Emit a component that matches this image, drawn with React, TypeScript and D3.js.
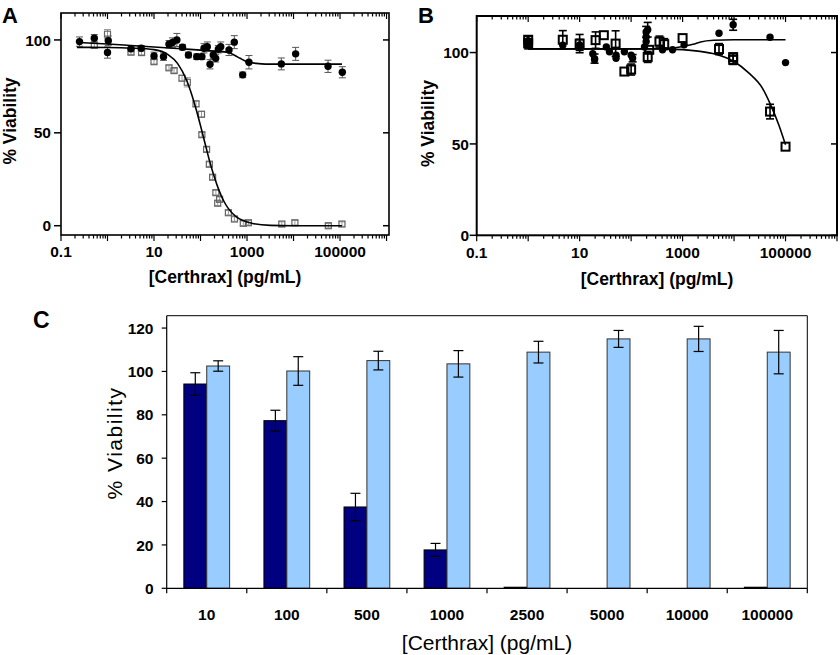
import React from "react";
import * as d3 from "d3";

const FONT = "'Liberation Sans', Arial, Helvetica, sans-serif";

// ---------------- Panel A data ----------------
const aCircleConc = [0.25, 0.52, 1.04, 1.0, 3.2, 5.3, 10, 16, 21, 25, 31, 41, 55, 83, 107, 119, 140, 160, 188, 212, 242, 272, 410, 533, 807, 1100, 5470, 11100, 55200, 112000];
const aCircleVal = [99.1, 100.9, 99.6, 93.2, 95.2, 95.5, 91.4, 91.0, 97.7, 98.6, 100.0, 96.1, 91.9, 91.0, 91.0, 95.5, 96.4, 86.9, 91.9, 90.1, 95.0, 96.4, 94.6, 98.8, 81.2, 88.0, 87.1, 92.5, 85.8, 82.6];
const aCircleErr = [2.5, 2, 2.5, 3, 1.5, 1.5, 2, 2, 2, 2.5, 3.5, 1.5, 1.5, 1.5, 1.5, 2.5, 2.5, 2.5, 2, 2, 2, 2.5, 3, 3.5, 1.5, 3.6, 3.2, 3.5, 3.3, 3];

const aSquareConc = [0.52, 1.0, 3.2, 5.4, 10, 21, 27, 40, 52, 80, 105, 107, 135, 155, 182, 214, 257, 234, 398, 537, 832, 1070, 5600, 10700, 56000, 110000];
const aSquareVal = [97.1, 103.1, 93.4, 93.2, 88.3, 85.0, 83.5, 79.4, 77.2, 65.6, 60.0, 49.0, 41.1, 33.1, 26.1, 17.8, 14.2, 12.1, 7.0, 3.6, 1.3, 1.6, 0.9, 1.6, 0, 0.9];
const aSquareErr = [1.5, 2.5, 1.2, 1.2, 1.2, 1.2, 1.2, 1.5, 2.5, 1.5, 1.5, 1.2, 1.2, 1.2, 1.2, 1.2, 1.2, 1.2, 1.2, 1.2, 1.2, 1.2, 1.2, 1.2, 1.2, 1.2];

// fitted curves
const aCircleFitConc = [0.24, 1, 3.16, 10, 31.6, 100, 200, 400, 560, 710, 1000, 1580, 2500, 110000];
const aCircleFitVal = [98.6, 97.8, 97.0, 96.2, 95.4, 94.5, 94.0, 93.2, 91.5, 90.1, 88.3, 87.4, 87.0, 87.0];
const aSquareFitConc = [0.22, 1, 3.2, 10, 20, 32, 50, 79, 100, 126, 158, 200, 251, 316, 398, 562, 794, 1259, 3162, 10000, 110000];
const aSquareFitVal = [96, 95.9, 95.6, 94.8, 92.1, 87.4, 78.4, 63.4, 53.9, 44.0, 34.5, 25.9, 18.9, 13.3, 9.2, 5.2, 2.9, 1.3, 0.2, 0, 0];

const aYTicks = [0, 50, 100];
const aXLabels = [0.1, 10, 1000, 100000];

// ---------------- Panel B data ----------------
const bCircleConc = [1, 1, 4.7, 10, 18, 19.5, 19.5, 33, 38, 51, 51, 74, 100, 107, 182, 196, 196, 210, 196, 407, 638, 1070, 5100, 9600, 50000, 100000];
const bCircleVal = [104, 106.5, 104, 104.2, 99.4, 96.7, 96.0, 103.1, 100.4, 98.6, 96.9, 100.4, 98.6, 96.9, 103.1, 108.6, 111.3, 112.5, 106, 101.5, 101.5, 104.2, 110.6, 115.2, 108.4, 94.5];
const bCircleErr = [2, 0, 0, 3, 0, 2.5, 0, 0, 0, 0, 0, 0, 0, 2, 0, 0, 3, 4, 0, 0, 0, 0, 0, 3, 0, 0];

const bSquareConc = [1, 1, 4.7, 10, 20.4, 29.5, 50, 74, 100, 210, 225, 355, 440, 1000, 5100, 9600, 9600, 50000, 100000];
const bSquareVal = [107, 105, 107, 104.9, 106.8, 109.5, 104.9, 89.6, 90.7, 97.6, 101.5, 106, 104.6, 107.9, 101.9, 96.0, 97.5, 67.7, 48.5];
const bSquareErr = [2, 0, 5, 5, 4.5, 0, 7, 0, 3, 3, 0, 3, 3, 0, 3, 2.5, 2, 4, 0];

const bCircleFitConc = [1, 100, 500, 1000, 1600, 2240, 4000, 10000, 100000];
const bCircleFitVal = [102, 102, 102.2, 103.3, 104.5, 105.8, 106.7, 107, 107];
const bSquareFitConc = [1, 10, 100, 500, 1000, 2000, 4400, 10000, 19500, 35500, 51300, 74100, 100000];
const bSquareFitVal = [102, 102, 102, 101.9, 101.6, 100.8, 99.1, 95.1, 88.7, 80.5, 71.4, 60.4, 49.5];

const bYTicks = [0, 50, 100];
const bXLabels = [0.1, 10, 1000, 100000];

// ---------------- Panel C data ----------------
const cCategories = ["10", "100", "500", "1000", "2500", "5000", "10000", "100000"];
const cDark = [94.2, 77.3, 37.5, 17.7, 0.5, 0, 0, 0.5];
const cDarkErr = [5.2, 4.8, 6.3, 3.0, 0, 0, 0, 0];
const cLight = [102.5, 100.2, 105, 103.5, 108.9, 115, 115, 108.9];
const cLightErr = [2.4, 6.6, 4.3, 6.1, 5, 3.9, 5.8, 10];
const cYTicks = [0, 20, 40, 60, 80, 100, 120];

type Pt = { c: number; v: number; e: number };
const zip = (c: number[], v: number[], e: number[]): Pt[] => c.map((x, i) => ({ c: x, v: v[i], e: e[i] }));

type PanelProps = {
  box: { left: number; right: number; top: number; bottom: number };
  xDomain: [number, number];
  yDomain: [number, number];
  yTicks: number[];
  xLabels: number[];
  circles: Pt[];
  squares: Pt[];
  circleFit: [number[], number[]];
  squareFit: [number[], number[]];
  frameW: number;
  sqSize: number;
  sqStroke: string;
  sqStrokeW: number;
  sqErrColor: string;
  circErrColor: string;
  errW: number;
  capHalf: number;
  xLabelY: number;
  xTitle: { x: number; y: number };
  yTitle: { x: number; y: number };
  yLabelX: number;
};

function LogPanel(p: PanelProps) {
  const { box } = p;
  const x = d3.scaleLog().domain(p.xDomain).range([box.left, box.right]);
  const y = d3.scaleLinear().domain(p.yDomain).range([box.bottom, box.top]);
  const allTicks = x.ticks().filter((t) => t >= p.xDomain[0] && t <= p.xDomain[1] * 1.0001);
  const isMajor = (t: number) => Math.abs(Math.log10(t) - Math.round(Math.log10(t))) < 1e-6;
  const line = d3
    .line<[number, number]>()
    .x((d) => x(d[0]))
    .y((d) => y(d[1]))
    .curve(d3.curveMonotoneX);
  const fitPath = (f: [number[], number[]]) => line(f[0].map((c, i) => [c, f[1][i]] as [number, number])) || "";
  const errBar = (d: Pt, color: string, key: string) =>
    d.e > 0 ? (
      <g key={key} stroke={color} strokeWidth={p.errW}>
        <line x1={x(d.c)} x2={x(d.c)} y1={y(d.v - d.e)} y2={y(d.v + d.e)} />
        <line x1={x(d.c) - p.capHalf} x2={x(d.c) + p.capHalf} y1={y(d.v + d.e)} y2={y(d.v + d.e)} />
        <line x1={x(d.c) - p.capHalf} x2={x(d.c) + p.capHalf} y1={y(d.v - d.e)} y2={y(d.v - d.e)} />
      </g>
    ) : null;
  const fmt = (v: number) => (v < 1 ? String(v) : d3.format("d")(v));
  return (
    <g fontFamily={FONT}>
      {/* frame */}
      <rect x={box.left} y={box.top} width={box.right - box.left} height={box.bottom - box.top} fill="none" stroke="#000" strokeWidth={p.frameW} />
      {/* x ticks bottom (outward) and top (inward) */}
      {allTicks.map((t, i) => {
        const len = isMajor(t) ? 6 : 3.5;
        return (
          <g key={"xt" + i} stroke="#000" strokeWidth={1.2}>
            <line x1={x(t)} x2={x(t)} y1={box.bottom} y2={box.bottom + len} />
            <line x1={x(t)} x2={x(t)} y1={box.top} y2={box.top + len} />
          </g>
        );
      })}
      {/* y ticks left (outward) and right (inward) */}
      {p.yTicks.map((t, i) => (
        <g key={"yt" + i} stroke="#000" strokeWidth={1.5}>
          <line x1={box.left - 7} x2={box.left} y1={y(t)} y2={y(t)} />
          <line x1={box.right - 6} x2={box.right} y1={y(t)} y2={y(t)} />
        </g>
      ))}
      {p.yTicks.map((t, i) => (
        <text key={"yl" + i} x={p.yLabelX} y={y(t)} dy="0.36em" textAnchor="end" fontSize={15.5} fontWeight="bold">
          {t}
        </text>
      ))}
      {p.xLabels.map((t, i) => (
        <text key={"xl" + i} x={x(t)} y={p.xLabelY} textAnchor="middle" fontSize={15.5} fontWeight="bold">
          {fmt(t)}
        </text>
      ))}
      <text x={p.xTitle.x} y={p.xTitle.y} textAnchor="middle" fontSize={17.5} fontWeight="bold">
        [Certhrax] (pg/mL)
      </text>
      <text transform={`translate(${p.yTitle.x},${p.yTitle.y}) rotate(-90)`} textAnchor="middle" fontSize={17.5} fontWeight="bold">
        % Viability
      </text>
      {/* error bars */}
      {p.squares.map((d, i) => errBar(d, p.sqErrColor, "se" + i))}
      {p.circles.map((d, i) => errBar(d, p.circErrColor, "ce" + i))}
      {/* markers */}
      {p.squares.map((d, i) => (
        <rect
          key={"sq" + i}
          x={x(d.c) - p.sqSize / 2}
          y={y(d.v) - p.sqSize / 2}
          width={p.sqSize}
          height={p.sqSize}
          fill="none"
          stroke={p.sqStroke}
          strokeWidth={p.sqStrokeW}
        />
      ))}
      {p.circles.map((d, i) => (
        <circle key={"ci" + i} cx={x(d.c)} cy={y(d.v)} r={3.7} fill="#000" />
      ))}
      {/* fits */}
      <path d={fitPath(p.circleFit)} fill="none" stroke="#000" strokeWidth={1.6} />
      <path d={fitPath(p.squareFit)} fill="none" stroke="#000" strokeWidth={1.6} />
    </g>
  );
}

function BarPanel() {
  const box = { left: 166.7, right: 807.3, top: 315.7, bottom: 588.3 };
  const x = d3.scaleBand<string>().domain(cCategories).range([box.left, box.right]).padding(0);
  const y = d3.scaleLinear().domain([0, 125.7]).range([box.bottom, box.top]);
  const bw = x.bandwidth() / 3.5;
  const bars = [
    { vals: cDark, errs: cDarkErr, fill: "#000080", off: -bw, stroke: "#000" },
    { vals: cLight, errs: cLightErr, fill: "#99CCFF", off: 0, stroke: "#333" },
  ];
  return (
    <g fontFamily={FONT}>
      <line x1={box.left} x2={box.right} y1={box.top} y2={box.top} stroke="#000" strokeWidth={1} />
      <line x1={box.right} x2={box.right} y1={box.top} y2={box.bottom} stroke="#000" strokeWidth={1} />
      {bars.map((s, si) =>
        cCategories.map((c, i) => {
          const cx = (x(c) as number) + x.bandwidth() / 2 + s.off;
          const v = s.vals[i];
          if (v <= 0) return null;
          return (
            <rect key={"b" + si + "-" + i} x={cx} y={y(v)} width={bw} height={y(0) - y(v)} fill={s.fill} stroke={s.stroke} strokeWidth={1} />
          );
        })
      )}
      {bars.map((s, si) =>
        cCategories.map((c, i) => {
          const e = s.errs[i];
          if (e <= 0) return null;
          const cx = (x(c) as number) + x.bandwidth() / 2 + s.off + bw / 2;
          const v = s.vals[i];
          return (
            <g key={"e" + si + "-" + i} stroke="#000" strokeWidth={1.2}>
              <line x1={cx} x2={cx} y1={y(v - e)} y2={y(v + e)} />
              <line x1={cx - 5} x2={cx + 5} y1={y(v + e)} y2={y(v + e)} />
              <line x1={cx - 5} x2={cx + 5} y1={y(v - e)} y2={y(v - e)} />
            </g>
          );
        })
      )}
      {/* axes */}
      <line x1={box.left} x2={box.left} y1={box.top} y2={box.bottom} stroke="#000" strokeWidth={1.2} />
      <line x1={box.left} x2={box.right} y1={box.bottom} y2={box.bottom} stroke="#000" strokeWidth={1.2} />
      {cYTicks.map((t) => (
        <g key={"ct" + t}>
          <line x1={box.left - 5} x2={box.left} y1={y(t)} y2={y(t)} stroke="#000" strokeWidth={1.2} />
          <text x={153.5} y={y(t)} dy="0.36em" textAnchor="end" fontSize={15.5} fontWeight="bold">
            {t}
          </text>
        </g>
      ))}
      {cCategories.map((c, i) => (
        <line key={"cb" + i} x1={x(c) as number} x2={x(c) as number} y1={box.bottom} y2={box.bottom + 5} stroke="#000" strokeWidth={1.2} />
      ))}
      <line x1={box.right} x2={box.right} y1={box.bottom} y2={box.bottom + 5} stroke="#000" strokeWidth={1.2} />
      {cCategories.map((c) => (
        <text key={"cl" + c} x={(x(c) as number) + x.bandwidth() / 2} y={620} textAnchor="middle" fontSize={15.5} fontWeight="bold">
          {c}
        </text>
      ))}
      <text x={487} y={650} textAnchor="middle" fontSize={21}>
        [Certhrax] (pg/mL)
      </text>
      <text transform="translate(122,443) rotate(-90)" textAnchor="middle" fontSize={21} letterSpacing={1.5}>
        % Viability
      </text>
    </g>
  );
}

export default function App() {
  return (
    <svg width={840} height={655} viewBox="0 0 840 655" style={{ position: "absolute", left: 0, top: 0, background: "#fff" }}>
      <rect x={0} y={0} width={840} height={655} fill="#fff" />
      <LogPanel
        box={{ left: 61, right: 389, top: 13, bottom: 235 }}
        xDomain={[0.1, 1.13e6]}
        yDomain={[-5, 114.5]}
        yTicks={aYTicks}
        xLabels={aXLabels}
        circles={zip(aCircleConc, aCircleVal, aCircleErr)}
        squares={zip(aSquareConc, aSquareVal, aSquareErr)}
        circleFit={[aCircleFitConc, aCircleFitVal]}
        squareFit={[aSquareFitConc, aSquareFitVal]}
        frameW={1.6}
        sqSize={6}
        sqStroke="#666"
        sqStrokeW={1.2}
        sqErrColor="#999"
        circErrColor="#555"
        errW={1}
        capHalf={3.5}
        xLabelY={257}
        xTitle={{ x: 225, y: 283 }}
        yTitle={{ x: 15.5, y: 121 }}
        yLabelX={51}
      />
      <LogPanel
        box={{ left: 476.7, right: 837, top: 16, bottom: 235.3 }}
        xDomain={[0.1, 1e6]}
        yDomain={[0, 120]}
        yTicks={bYTicks}
        xLabels={bXLabels}
        circles={zip(bCircleConc, bCircleVal, bCircleErr)}
        squares={zip(bSquareConc, bSquareVal, bSquareErr)}
        circleFit={[bCircleFitConc, bCircleFitVal]}
        squareFit={[bSquareFitConc, bSquareFitVal]}
        frameW={2}
        sqSize={8}
        sqStroke="#000"
        sqStrokeW={2}
        sqErrColor="#000"
        circErrColor="#000"
        errW={1.6}
        capHalf={4}
        xLabelY={258}
        xTitle={{ x: 657, y: 285 }}
        yTitle={{ x: 433.5, y: 123.5 }}
        yLabelX={469}
      />
      <BarPanel />
      <text x={2} y={23} fontFamily={FONT} fontWeight="bold" fontSize={22}>A</text>
      <text x={418} y={23} fontFamily={FONT} fontWeight="bold" fontSize={22}>B</text>
      <text x={33} y={328} fontFamily={FONT} fontWeight="bold" fontSize={23}>C</text>
    </svg>
  );
}
